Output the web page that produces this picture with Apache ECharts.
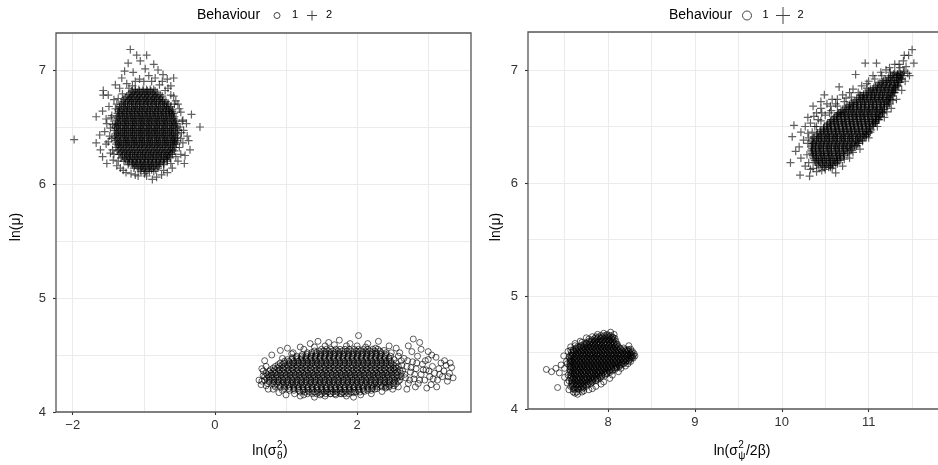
<!DOCTYPE html>
<html>
<head>
<meta charset="utf-8">
<script src="https://cdn.jsdelivr.net/npm/echarts@6/dist/echarts.min.js"></script>
<style>
  html, body { margin: 0; padding: 0; background: #fff; }
  #chart { width: 938px; height: 465px; }
</style>
</head>
<body>
<div id="chart"></div>
<script>
// ---- tick labels -------------------------------------------------------
const thetaTicks = [-2, 0, 2];
const psiTicks = [8, 9, 10, 11];
const muTicks = [4, 5, 6, 7];

// ---- ln(sigma_theta^2) vs ln(mu) ---------------------------------------
// Dense parts are stored as rows: [ln(mu), x1, x2, ...]
const thetaB1Rows = [
  [4.55, 1.50,1.57,1.63,1.70,1.76,1.83,1.89,1.96,2.02,2.09,2.15,2.22,2.29],
  [4.52, 1.30,1.36,1.43,1.49,1.56,1.62,1.69,1.75,1.82,1.88,1.95,2.01,2.08,2.14,2.21,2.27,2.34,2.41],
  [4.49, 1.15,1.22,1.28,1.35,1.41,1.48,1.54,1.61,1.67,1.74,1.80,1.87,1.93,2.00,2.06,2.13,2.19,2.26,2.32,2.39,2.47],
  [4.46, 1.02,1.08,1.15,1.21,1.28,1.34,1.41,1.47,1.54,1.60,1.67,1.73,1.80,1.86,1.93,1.99,2.06,2.12,2.19,2.25,2.32,2.38,2.45,2.52],
  [4.43, 0.92,0.98,1.05,1.11,1.18,1.24,1.31,1.37,1.44,1.50,1.57,1.63,1.70,1.76,1.83,1.89,1.96,2.02,2.09,2.15,2.22,2.28,2.35,2.41,2.48,2.55],
  [4.40, 0.85,0.91,0.98,1.04,1.11,1.17,1.24,1.30,1.37,1.43,1.50,1.56,1.63,1.69,1.76,1.82,1.89,1.95,2.02,2.08,2.15,2.21,2.28,2.34,2.41,2.47,2.54,2.58],
  [4.37, 0.78,0.84,0.91,0.97,1.04,1.10,1.17,1.23,1.30,1.36,1.43,1.49,1.56,1.62,1.69,1.75,1.82,1.88,1.95,2.01,2.08,2.14,2.21,2.27,2.34,2.40,2.47,2.53,2.60],
  [4.34, 0.72,0.79,0.85,0.92,0.98,1.05,1.11,1.18,1.24,1.31,1.37,1.44,1.50,1.57,1.63,1.70,1.76,1.83,1.89,1.96,2.02,2.09,2.15,2.22,2.28,2.35,2.41,2.48,2.54,2.62],
  [4.31, 0.70,0.76,0.83,0.89,0.96,1.02,1.09,1.15,1.22,1.28,1.35,1.41,1.48,1.54,1.61,1.67,1.74,1.80,1.87,1.93,2.00,2.06,2.13,2.19,2.26,2.32,2.39,2.45,2.52,2.58,2.62],
  [4.28, 0.70,0.77,0.83,0.90,0.96,1.03,1.09,1.16,1.22,1.29,1.35,1.42,1.48,1.55,1.61,1.68,1.74,1.81,1.87,1.94,2.00,2.07,2.13,2.20,2.26,2.33,2.39,2.46,2.53,2.60],
  [4.25, 0.74,0.81,0.87,0.94,1.00,1.07,1.13,1.20,1.26,1.33,1.39,1.46,1.52,1.59,1.65,1.72,1.78,1.85,1.91,1.98,2.04,2.11,2.17,2.24,2.30,2.37,2.43,2.50,2.55],
  [4.22, 0.85,0.92,0.98,1.05,1.11,1.18,1.24,1.31,1.37,1.44,1.50,1.57,1.63,1.70,1.76,1.83,1.89,1.96,2.02,2.09,2.15,2.22,2.28,2.35,2.41,2.45],
  [4.19, 1.05,1.11,1.18,1.24,1.31,1.37,1.44,1.50,1.57,1.63,1.70,1.76,1.83,1.89,1.96,2.02,2.09,2.15,2.20],
  [4.16, 1.30,1.37,1.43,1.50,1.56,1.63,1.69,1.76,1.82,1.88],
  // in-between rows of the dense centre
  [4.535, 1.40,1.47,1.53,1.60,1.66,1.73,1.79,1.86,1.92,1.99,2.05,2.12,2.18,2.25,2.32],
  [4.505, 1.23,1.30,1.36,1.43,1.49,1.56,1.62,1.69,1.75,1.82,1.88,1.95,2.01,2.08,2.14,2.21,2.27,2.34,2.40],
  [4.475, 1.09,1.15,1.22,1.28,1.35,1.41,1.48,1.54,1.61,1.67,1.74,1.80,1.87,1.93,2.00,2.06,2.13,2.19,2.26,2.32,2.39,2.45],
  [4.445, 0.98,1.04,1.11,1.17,1.24,1.30,1.37,1.43,1.50,1.56,1.63,1.69,1.76,1.82,1.89,1.95,2.02,2.08,2.15,2.21,2.28,2.34,2.41,2.47],
  [4.415, 0.89,0.95,1.02,1.08,1.15,1.21,1.28,1.34,1.41,1.47,1.54,1.60,1.67,1.73,1.80,1.86,1.93,1.99,2.06,2.12,2.19,2.25,2.32,2.38,2.45,2.51],
  [4.385, 0.82,0.88,0.95,1.01,1.08,1.14,1.21,1.27,1.34,1.40,1.47,1.53,1.60,1.66,1.73,1.79,1.86,1.92,1.99,2.05,2.12,2.18,2.25,2.31,2.38,2.44,2.51,2.55],
  [4.355, 0.76,0.82,0.89,0.95,1.02,1.08,1.15,1.21,1.28,1.34,1.41,1.47,1.54,1.60,1.67,1.73,1.80,1.86,1.93,1.99,2.06,2.12,2.19,2.25,2.32,2.38,2.45,2.51,2.57],
  [4.325, 0.74,0.80,0.87,0.93,1.00,1.06,1.13,1.19,1.26,1.32,1.39,1.45,1.52,1.58,1.65,1.71,1.78,1.84,1.91,1.97,2.04,2.10,2.17,2.23,2.30,2.36,2.43,2.49,2.56],
  [4.295, 0.73,0.80,0.86,0.93,0.99,1.06,1.12,1.19,1.25,1.32,1.38,1.45,1.51,1.58,1.64,1.71,1.77,1.84,1.90,1.97,2.03,2.10,2.16,2.23,2.29,2.36,2.42,2.49,2.56],
  [4.265, 0.76,0.83,0.89,0.96,1.02,1.09,1.15,1.22,1.28,1.35,1.41,1.48,1.54,1.61,1.67,1.74,1.80,1.87,1.93,2.00,2.06,2.13,2.19,2.26,2.32,2.39,2.45,2.52],
  [4.235, 0.84,0.90,0.97,1.03,1.10,1.16,1.23,1.29,1.36,1.42,1.49,1.55,1.62,1.68,1.75,1.81,1.88,1.94,2.01,2.07,2.14,2.20,2.27,2.33,2.40,2.46],
  [4.205, 0.98,1.04,1.11,1.17,1.24,1.30,1.37,1.43,1.50,1.56,1.63,1.69,1.76,1.82,1.89,1.95,2.02,2.08,2.15,2.21,2.28],
  [4.175, 1.20,1.27,1.33,1.40,1.46,1.53,1.59,1.66,1.72,1.79,1.85,1.92,1.98,2.04]
];
const thetaB1Loose = [
  [2.66,4.47],[2.70,4.40],[2.68,4.30],[2.72,4.25],[2.75,4.35],[2.78,4.44],[2.80,4.29],[2.83,4.38],
  [2.85,4.49],[2.86,4.25],[2.90,4.33],[2.92,4.42],[2.95,4.28],[2.97,4.37],[3.00,4.46],[3.02,4.31],
  [3.04,4.24],[3.06,4.40],[3.09,4.34],[3.11,4.48],[3.13,4.28],[3.15,4.38],[3.18,4.43],[3.20,4.31],
  [3.22,4.36],[3.25,4.41],[3.27,4.27],[3.30,4.34],[3.33,4.39],[3.35,4.30],[3.12,4.22],[2.98,4.21],
  [2.82,4.22],[2.70,4.20],[2.64,4.36],[2.77,4.53],[2.90,4.55],[3.05,4.50],[2.60,4.52],[2.72,4.58],
  [3.00,4.53],[0.92,4.54],[1.02,4.56],[1.34,4.60],[1.45,4.62],[1.60,4.61],[1.75,4.63],[2.02,4.67],
  [1.90,4.60],[2.15,4.60],[2.30,4.62],[2.45,4.58],[2.55,4.56],[2.79,4.64],[2.88,4.61],[1.20,4.57],
  [0.80,4.50],[0.70,4.45],[1.10,4.52],[0.62,4.28],[0.65,4.24],[0.68,4.32],[0.75,4.20],[0.90,4.17],
  [1.00,4.15],[1.20,4.14],[1.40,4.13],[1.55,4.14],[1.70,4.15],[1.85,4.14],[2.05,4.15],[2.20,4.16],
  [2.35,4.18],[2.50,4.20],[2.58,4.22],[1.95,4.13],[0.66,4.38],
  [2.63,4.41],[2.67,4.33],[2.71,4.45],[2.74,4.28],[2.76,4.39],[2.81,4.33],[2.84,4.43],[2.88,4.28],
  [2.93,4.37],[2.96,4.45],[3.01,4.36],[3.07,4.29],[3.16,4.33],[3.23,4.45],[3.28,4.31],[3.31,4.43],
  [0.95,4.47],[1.08,4.51],[1.25,4.55],[1.40,4.57],[1.55,4.58],[1.68,4.59],[1.85,4.58],[2.00,4.58],
  [2.12,4.57],[2.26,4.56],[2.38,4.54],[2.48,4.52],[0.72,4.40],[0.68,4.36],[0.66,4.27],[0.72,4.23],
  [0.82,4.20],[0.95,4.19],[1.12,4.16],[1.25,4.15],[1.48,4.15],[1.62,4.16],[1.78,4.16],[1.95,4.17],
  [2.10,4.18],[2.25,4.20],[2.40,4.21],[2.52,4.23],[2.58,4.27],[2.62,4.45],[2.58,4.49]
];
const thetaB2Rows = [
  [6.83, -1.12,-1.07,-1.01,-0.96,-0.91,-0.86],
  [6.80, -1.19,-1.14,-1.09,-1.03,-0.98,-0.93,-0.87,-0.81],
  [6.77, -1.24,-1.18,-1.13,-1.07,-1.02,-0.96,-0.91,-0.85,-0.80,-0.74],
  [6.74, -1.28,-1.22,-1.17,-1.11,-1.06,-1.00,-0.95,-0.89,-0.84,-0.78,-0.73],
  [6.71, -1.31,-1.26,-1.20,-1.15,-1.09,-1.04,-0.98,-0.93,-0.87,-0.82,-0.76,-0.71,-0.66],
  [6.68, -1.34,-1.28,-1.23,-1.17,-1.12,-1.06,-1.01,-0.95,-0.90,-0.84,-0.79,-0.73,-0.68,-0.62],
  [6.65, -1.36,-1.31,-1.25,-1.20,-1.14,-1.09,-1.03,-0.98,-0.92,-0.87,-0.81,-0.76,-0.70,-0.65,-0.60],
  [6.62, -1.37,-1.32,-1.27,-1.21,-1.16,-1.10,-1.05,-0.99,-0.94,-0.88,-0.83,-0.77,-0.72,-0.66,-0.61,-0.58],
  [6.59, -1.38,-1.34,-1.28,-1.23,-1.17,-1.12,-1.06,-1.01,-0.95,-0.90,-0.84,-0.79,-0.73,-0.68,-0.62,-0.57],
  [6.56, -1.39,-1.33,-1.27,-1.22,-1.16,-1.11,-1.05,-1.00,-0.94,-0.89,-0.83,-0.78,-0.72,-0.67,-0.61,-0.55],
  [6.53, -1.40,-1.35,-1.29,-1.24,-1.18,-1.13,-1.07,-1.02,-0.96,-0.91,-0.85,-0.80,-0.74,-0.69,-0.63,-0.58,-0.54],
  [6.50, -1.41,-1.36,-1.30,-1.25,-1.19,-1.14,-1.08,-1.03,-0.97,-0.92,-0.86,-0.81,-0.75,-0.70,-0.64,-0.59,-0.53],
  [6.47, -1.41,-1.35,-1.29,-1.24,-1.18,-1.13,-1.07,-1.02,-0.96,-0.91,-0.85,-0.80,-0.74,-0.69,-0.63,-0.58,-0.52],
  [6.44, -1.40,-1.36,-1.30,-1.25,-1.19,-1.14,-1.08,-1.03,-0.97,-0.92,-0.86,-0.81,-0.75,-0.70,-0.64,-0.59,-0.53],
  [6.41, -1.41,-1.35,-1.29,-1.24,-1.18,-1.13,-1.07,-1.02,-0.96,-0.91,-0.85,-0.80,-0.74,-0.69,-0.63,-0.58,-0.53],
  [6.38, -1.40,-1.34,-1.28,-1.23,-1.17,-1.12,-1.06,-1.01,-0.95,-0.90,-0.84,-0.79,-0.73,-0.68,-0.62,-0.57,-0.53],
  [6.35, -1.39,-1.35,-1.29,-1.24,-1.18,-1.13,-1.07,-1.02,-0.96,-0.91,-0.85,-0.80,-0.74,-0.69,-0.63,-0.58,-0.54],
  [6.32, -1.39,-1.33,-1.28,-1.22,-1.17,-1.11,-1.06,-1.00,-0.95,-0.89,-0.84,-0.78,-0.73,-0.67,-0.62,-0.56],
  [6.29, -1.37,-1.31,-1.26,-1.20,-1.15,-1.09,-1.04,-0.98,-0.93,-0.87,-0.82,-0.76,-0.71,-0.65,-0.60,-0.57],
  [6.26, -1.35,-1.30,-1.24,-1.19,-1.13,-1.08,-1.02,-0.97,-0.91,-0.86,-0.80,-0.75,-0.69,-0.64,-0.60],
  [6.23, -1.32,-1.27,-1.21,-1.16,-1.10,-1.05,-0.99,-0.94,-0.88,-0.83,-0.77,-0.72,-0.67,-0.63],
  [6.20, -1.28,-1.23,-1.17,-1.12,-1.06,-1.01,-0.95,-0.90,-0.84,-0.79,-0.73,-0.67],
  [6.17, -1.22,-1.16,-1.11,-1.05,-1.00,-0.94,-0.89,-0.83,-0.78,-0.72],
  [6.14, -1.14,-1.08,-1.03,-0.97,-0.92,-0.86,-0.80],
  [6.11, -1.04,-0.98,-0.92,-0.86],
  // in-between rows of the dense centre
  [6.815, -1.17,-1.12,-1.06,-1.01,-0.95,-0.90,-0.84],
  [6.785, -1.21,-1.16,-1.10,-1.05,-0.99,-0.94,-0.88,-0.83,-0.77],
  [6.755, -1.26,-1.20,-1.15,-1.09,-1.04,-0.98,-0.93,-0.87,-0.82,-0.76],
  [6.725, -1.29,-1.23,-1.18,-1.12,-1.07,-1.01,-0.96,-0.90,-0.85,-0.79,-0.74,-0.69],
  [6.695, -1.32,-1.26,-1.21,-1.15,-1.10,-1.04,-0.99,-0.93,-0.88,-0.82,-0.77,-0.71,-0.66],
  [6.665, -1.34,-1.28,-1.23,-1.17,-1.12,-1.06,-1.01,-0.95,-0.90,-0.84,-0.79,-0.73,-0.68,-0.63],
  [6.635, -1.35,-1.29,-1.24,-1.18,-1.13,-1.07,-1.02,-0.96,-0.91,-0.85,-0.80,-0.74,-0.69,-0.64,-0.60],
  [6.605, -1.35,-1.30,-1.24,-1.19,-1.13,-1.08,-1.02,-0.97,-0.91,-0.86,-0.80,-0.75,-0.69,-0.64,-0.59],
  [6.575, -1.36,-1.30,-1.25,-1.19,-1.14,-1.08,-1.03,-0.97,-0.92,-0.86,-0.81,-0.75,-0.70,-0.64,-0.58],
  [6.545, -1.37,-1.32,-1.26,-1.21,-1.15,-1.10,-1.04,-0.99,-0.93,-0.88,-0.82,-0.77,-0.71,-0.66,-0.60,-0.56],
  [6.515, -1.38,-1.33,-1.27,-1.22,-1.16,-1.11,-1.05,-1.00,-0.94,-0.89,-0.83,-0.78,-0.72,-0.67,-0.61,-0.56],
  [6.485, -1.38,-1.33,-1.27,-1.22,-1.16,-1.11,-1.05,-1.00,-0.94,-0.89,-0.83,-0.78,-0.72,-0.67,-0.61,-0.55],
  [6.455, -1.38,-1.32,-1.27,-1.21,-1.16,-1.10,-1.05,-0.99,-0.94,-0.88,-0.83,-0.77,-0.72,-0.66,-0.61,-0.55],
  [6.425, -1.38,-1.33,-1.27,-1.22,-1.16,-1.11,-1.05,-1.00,-0.94,-0.89,-0.83,-0.78,-0.72,-0.67,-0.61,-0.56],
  [6.395, -1.38,-1.32,-1.26,-1.21,-1.15,-1.10,-1.04,-0.99,-0.93,-0.88,-0.82,-0.77,-0.71,-0.66,-0.60,-0.56],
  [6.365, -1.37,-1.32,-1.26,-1.21,-1.15,-1.10,-1.04,-0.99,-0.93,-0.88,-0.82,-0.77,-0.71,-0.66,-0.60,-0.56],
  [6.335, -1.36,-1.31,-1.25,-1.20,-1.14,-1.09,-1.03,-0.98,-0.92,-0.87,-0.81,-0.76,-0.70,-0.65,-0.59],
  [6.305, -1.35,-1.29,-1.24,-1.18,-1.13,-1.07,-1.02,-0.96,-0.91,-0.85,-0.80,-0.74,-0.69,-0.63,-0.59],
  [6.275, -1.33,-1.27,-1.22,-1.16,-1.11,-1.05,-1.00,-0.94,-0.89,-0.83,-0.78,-0.72,-0.67,-0.62],
  [6.245, -1.30,-1.24,-1.19,-1.13,-1.08,-1.02,-0.97,-0.91,-0.86,-0.80,-0.75,-0.69,-0.65],
  [6.215, -1.26,-1.20,-1.15,-1.09,-1.04,-0.98,-0.93,-0.87,-0.82,-0.76,-0.71,-0.67],
  [6.185, -1.21,-1.15,-1.10,-1.04,-0.99,-0.93,-0.88,-0.82,-0.77,-0.72],
  [6.155, -1.13,-1.08,-1.02,-0.97,-0.91,-0.86,-0.80],
  [6.125, -1.05,-1.00,-0.94,-0.89,-0.83]
];
const thetaB2Loose = [
  [-1.19,7.18],[-1.10,7.13],[-0.96,7.13],[-1.22,7.06],[-1.05,7.08],[-0.86,7.05],[-0.80,7.00],[-1.27,6.99],
  [-1.15,6.98],[-0.98,7.01],[-0.93,6.95],[-0.73,6.96],[-1.31,6.93],[-1.06,6.92],[-0.89,6.90],[-0.67,6.92],
  [-1.24,6.88],[-1.16,6.86],[-0.78,6.87],[-0.62,6.86],[-1.34,6.84],[-0.70,6.82],[-1.50,6.78],[-1.42,6.74],
  [-0.58,6.77],[-0.52,6.70],[-1.49,6.68],[-1.58,6.64],[-1.45,6.60],[-0.48,6.63],[-0.45,6.56],[-0.33,6.61],
  [-1.67,6.59],[-1.52,6.53],[-0.21,6.50],[-0.44,6.47],[-1.55,6.46],[-1.48,6.42],[-0.39,6.42],[-1.98,6.39],
  [-1.67,6.36],[-1.53,6.35],[-0.45,6.36],[-0.35,6.30],[-1.61,6.30],[-1.47,6.27],[-0.48,6.26],[-1.43,6.21],
  [-0.52,6.20],[-0.43,6.18],[-1.38,6.16],[-0.60,6.14],[-1.29,6.12],[-0.67,6.10],[-1.18,6.09],[-0.96,6.07],
  [-0.82,6.06],[-0.75,6.08],[-1.08,6.07],[-0.88,6.04],[-1.57,6.82],[-1.57,6.78],
  [-1.44,6.52],[-1.45,6.40],[-1.44,6.30],[-0.49,6.50],[-0.48,6.40],[-0.50,6.32],[-1.38,6.70],[-0.57,6.70],
  [-1.46,6.58],[-1.47,6.49],[-1.50,6.37],[-1.42,6.26],[-1.36,6.20],[-1.33,6.14],[-1.25,6.10],[-1.12,6.08],
  [-0.99,6.09],[-0.72,6.12],[-0.62,6.18],[-0.55,6.24],[-0.47,6.45],[-0.46,6.55],[-0.50,6.66],[-0.55,6.73],
  [-0.62,6.78],[-0.66,6.84],[-0.74,6.90],[-0.84,6.93],[-1.00,6.90],[-1.12,6.90],[-1.21,6.84],[-1.30,6.79],
  [-1.36,6.75],[-1.40,6.66],[-1.53,6.57],[-1.40,6.87],[-0.58,6.93],[-0.40,6.53],[-0.37,6.38],[-0.42,6.25],
  [-1.62,6.43],[-1.58,6.24],[-1.52,6.18]
];

// ---- ln(sigma_psi^2 / 2beta) vs ln(mu) ---------------------------------
const psiB1Rows = [
  [4.150, 7.60,7.64],
  [4.175, 7.60,7.62,7.66,7.70],
  [4.200, 7.59,7.63,7.67,7.71,7.75],
  [4.225, 7.58,7.61,7.65,7.69,7.73,7.77,7.80],
  [4.250, 7.58,7.62,7.66,7.70,7.74,7.78,7.82,7.86],
  [4.275, 7.57,7.60,7.64,7.68,7.72,7.76,7.80,7.84,7.88,7.91],
  [4.300, 7.57,7.61,7.65,7.69,7.73,7.77,7.81,7.85,7.89,7.93,7.97],
  [4.325, 7.56,7.59,7.63,7.67,7.71,7.75,7.79,7.83,7.87,7.91,7.95,7.99,8.02],
  [4.350, 7.56,7.60,7.64,7.68,7.72,7.76,7.80,7.84,7.88,7.92,7.96,8.00,8.04,8.08],
  [4.375, 7.56,7.58,7.62,7.66,7.70,7.74,7.78,7.82,7.86,7.90,7.94,7.98,8.02,8.06,8.10,8.13],
  [4.400, 7.56,7.60,7.64,7.68,7.72,7.76,7.80,7.84,7.88,7.92,7.96,8.00,8.04,8.08,8.12,8.16,8.18],
  [4.425, 7.56,7.58,7.62,7.66,7.70,7.74,7.78,7.82,7.86,7.90,7.94,7.98,8.02,8.06,8.10,8.14,8.18,8.21,8.24],
  [4.450, 7.56,7.60,7.64,7.68,7.72,7.76,7.80,7.84,7.88,7.92,7.96,8.00,8.04,8.08,8.12,8.16,8.20,8.24,8.27,8.29],
  [4.475, 7.57,7.59,7.63,7.67,7.71,7.75,7.79,7.83,7.87,7.91,7.95,7.99,8.03,8.07,8.11,8.15,8.19,8.23,8.27,8.29],
  [4.500, 7.58,7.61,7.65,7.69,7.73,7.77,7.81,7.85,7.89,7.93,7.97,8.01,8.05,8.09,8.13,8.17,8.21,8.25,8.27],
  [4.525, 7.60,7.63,7.67,7.71,7.75,7.79,7.83,7.87,7.91,7.95,7.99,8.03,8.07,8.11,8.15,8.19,8.22,8.24],
  [4.550, 7.65,7.68,7.72,7.76,7.80,7.84,7.88,7.92,7.96,8.00,8.04,8.08,8.12],
  [4.575, 7.72,7.75,7.79,7.83,7.87,7.91,7.95,7.99,8.03,8.07,8.10],
  [4.600, 7.78,7.81,7.85,7.89,7.93,7.97,8.01,8.05,8.09],
  [4.625, 7.85,7.88,7.92,7.96,8.00,8.04,8.08],
  [4.650, 7.92,7.96,8.00,8.03],
  // in-between rows of the dense centre
  [4.188, 7.61,7.65,7.69,7.72],
  [4.213, 7.60,7.64,7.68,7.72,7.76],
  [4.238, 7.59,7.63,7.67,7.71,7.75,7.79,7.82],
  [4.263, 7.59,7.62,7.66,7.70,7.74,7.78,7.82,7.86,7.88],
  [4.288, 7.58,7.62,7.66,7.70,7.74,7.78,7.82,7.86,7.90,7.93],
  [4.313, 7.58,7.61,7.65,7.69,7.73,7.77,7.81,7.85,7.89,7.93,7.97,7.99],
  [4.338, 7.57,7.61,7.65,7.69,7.73,7.77,7.81,7.85,7.89,7.93,7.97,8.01,8.05],
  [4.363, 7.57,7.60,7.64,7.68,7.72,7.76,7.80,7.84,7.88,7.92,7.96,8.00,8.04,8.08,8.10],
  [4.388, 7.57,7.61,7.65,7.69,7.73,7.77,7.81,7.85,7.89,7.93,7.97,8.01,8.05,8.09,8.13,8.15],
  [4.413, 7.57,7.60,7.64,7.68,7.72,7.76,7.80,7.84,7.88,7.92,7.96,8.00,8.04,8.08,8.12,8.16,8.20],
  [4.438, 7.57,7.61,7.65,7.69,7.73,7.77,7.81,7.85,7.89,7.93,7.97,8.01,8.05,8.09,8.13,8.17,8.21,8.25],
  [4.463, 7.58,7.62,7.66,7.70,7.74,7.78,7.82,7.86,7.90,7.94,7.98,8.02,8.06,8.10,8.14,8.18,8.22,8.26,8.28],
  [4.488, 7.59,7.63,7.67,7.71,7.75,7.79,7.83,7.87,7.91,7.95,7.99,8.03,8.07,8.11,8.15,8.19,8.23,8.26],
  [4.513, 7.60,7.64,7.68,7.72,7.76,7.80,7.84,7.88,7.92,7.96,8.00,8.04,8.08,8.12,8.16,8.20,8.23],
  [4.538, 7.63,7.66,7.70,7.74,7.78,7.82,7.86,7.90,7.94,7.98,8.02,8.06,8.10,8.14],
  [4.563, 7.69,7.73,7.77,7.81,7.85,7.89,7.93,7.97,8.01,8.05,8.09],
  [4.588, 7.75,7.79,7.83,7.87,7.91,7.95,7.99,8.03,8.07],
  [4.613, 7.82,7.86,7.90,7.94,7.98,8.02,8.06],
  [4.638, 7.89,7.93,7.97,8.01,8.05]
];
const psiB1Loose = [
  [7.29,4.35],[7.35,4.33],[7.40,4.36],[7.44,4.32],[7.42,4.19],[7.46,4.39],[7.50,4.28],[7.52,4.42],
  [7.49,4.47],[7.53,4.23],[7.54,4.51],[7.57,4.55],[7.62,4.58],[7.68,4.60],[7.75,4.63],[7.82,4.64],
  [7.88,4.66],[7.95,4.67],[8.03,4.68],[8.07,4.66],[8.24,4.56],[8.28,4.51],[8.31,4.47],[7.65,4.13],
  [7.70,4.15],[7.78,4.17],[7.86,4.20],[7.95,4.24],[8.05,4.30],[8.15,4.36],[8.23,4.40],[7.55,4.17],
  [7.50,4.36],
  [7.54,4.30],[7.53,4.40],[7.55,4.46],[7.57,4.52],[7.62,4.56],[7.70,4.59],[7.78,4.62],[7.86,4.64],
  [7.99,4.66],[8.06,4.63],[8.11,4.57],[8.18,4.54],[8.26,4.53],[8.30,4.49],[8.26,4.42],[8.20,4.38],
  [8.12,4.33],[8.02,4.27],[7.92,4.22],[7.82,4.18],[7.72,4.16],[7.62,4.14],[7.57,4.20],[7.55,4.25]
];
const psiB2Rows = [
  [6.14, 10.44,10.49,10.54,10.56],
  [6.17, 10.40,10.45,10.49,10.54,10.58,10.62],
  [6.20, 10.38,10.42,10.47,10.51,10.56,10.60,10.64,10.66],
  [6.23, 10.36,10.40,10.45,10.49,10.54,10.58,10.63,10.67,10.71],
  [6.26, 10.35,10.39,10.44,10.48,10.53,10.57,10.62,10.66,10.71,10.76],
  [6.29, 10.34,10.37,10.42,10.46,10.51,10.55,10.60,10.64,10.69,10.73,10.78,10.81],
  [6.32, 10.34,10.39,10.43,10.48,10.52,10.57,10.61,10.66,10.70,10.75,10.79,10.84],
  [6.35, 10.35,10.37,10.42,10.46,10.51,10.55,10.60,10.64,10.69,10.73,10.78,10.82,10.87,10.89],
  [6.38, 10.35,10.40,10.44,10.49,10.53,10.58,10.62,10.67,10.71,10.76,10.80,10.85,10.89,10.93],
  [6.41, 10.37,10.42,10.46,10.51,10.55,10.60,10.64,10.69,10.73,10.78,10.82,10.87,10.91,10.95,10.97],
  [6.44, 10.41,10.45,10.50,10.54,10.59,10.63,10.68,10.72,10.77,10.81,10.86,10.90,10.95,11.00],
  [6.47, 10.45,10.48,10.53,10.57,10.62,10.66,10.71,10.75,10.80,10.84,10.89,10.93,10.98,11.03],
  [6.50, 10.49,10.52,10.56,10.61,10.65,10.70,10.74,10.79,10.83,10.88,10.92,10.97,11.01,11.05],
  [6.53, 10.53,10.55,10.60,10.64,10.69,10.73,10.78,10.82,10.87,10.91,10.96,11.00,11.05,11.08],
  [6.56, 10.57,10.59,10.63,10.68,10.72,10.77,10.81,10.86,10.90,10.95,10.99,11.04,11.08,11.11],
  [6.59, 10.61,10.63,10.67,10.72,10.76,10.81,10.85,10.90,10.94,10.99,11.03,11.08,11.12,11.14],
  [6.62, 10.65,10.66,10.71,10.75,10.80,10.84,10.89,10.93,10.98,11.02,11.07,11.11,11.16],
  [6.65, 10.70,10.74,10.79,10.83,10.88,10.92,10.97,11.01,11.06,11.10,11.15,11.18],
  [6.68, 10.75,10.78,10.82,10.87,10.91,10.96,11.00,11.05,11.09,11.14,11.18,11.21],
  [6.71, 10.80,10.82,10.86,10.91,10.95,11.00,11.04,11.09,11.13,11.18,11.23],
  [6.74, 10.86,10.90,10.95,10.99,11.04,11.08,11.13,11.17,11.22,11.25],
  [6.77, 10.91,10.94,10.98,11.03,11.07,11.12,11.16,11.21,11.25,11.27],
  [6.80, 10.96,11.00,11.05,11.09,11.14,11.18,11.23,11.27,11.29],
  [6.83, 11.02,11.05,11.10,11.14,11.19,11.23,11.28,11.31],
  [6.86, 11.08,11.12,11.17,11.21,11.26,11.30,11.33],
  [6.89, 11.13,11.16,11.21,11.25,11.30,11.34,11.36],
  [6.92, 11.19,11.23,11.28,11.32,11.36,11.38],
  [6.95, 11.25,11.28,11.33,11.37,11.39],
  [6.98, 11.30,11.35,11.40],
  // in-between rows of the dense centre
  [6.155, 10.42,10.47,10.51,10.56,10.59],
  [6.185, 10.39,10.43,10.47,10.52,10.56,10.61,10.64],
  [6.215, 10.37,10.42,10.46,10.51,10.55,10.60,10.64,10.68],
  [6.245, 10.36,10.40,10.45,10.49,10.54,10.58,10.63,10.67,10.72],
  [6.275, 10.35,10.39,10.44,10.48,10.53,10.57,10.62,10.66,10.71,10.76],
  [6.305, 10.35,10.39,10.44,10.48,10.53,10.57,10.62,10.66,10.71,10.75,10.80],
  [6.335, 10.35,10.39,10.44,10.48,10.53,10.57,10.62,10.66,10.71,10.75,10.80,10.84],
  [6.365, 10.36,10.40,10.45,10.49,10.54,10.58,10.63,10.67,10.72,10.76,10.81,10.85,10.88],
  [6.395, 10.37,10.42,10.46,10.51,10.55,10.60,10.64,10.69,10.73,10.78,10.82,10.87,10.91],
  [6.425, 10.40,10.44,10.49,10.53,10.58,10.62,10.67,10.71,10.76,10.80,10.85,10.89,10.94,10.97],
  [6.455, 10.44,10.48,10.53,10.57,10.62,10.66,10.71,10.75,10.80,10.84,10.89,10.93,10.98,11.00],
  [6.485, 10.48,10.52,10.57,10.61,10.66,10.70,10.75,10.79,10.84,10.88,10.93,10.97,11.02],
  [6.515, 10.52,10.56,10.61,10.65,10.70,10.74,10.79,10.83,10.88,10.92,10.97,11.01,11.05],
  [6.545, 10.56,10.60,10.65,10.69,10.74,10.78,10.83,10.87,10.92,10.96,11.01,11.05,11.08],
  [6.575, 10.60,10.64,10.69,10.73,10.78,10.82,10.87,10.91,10.96,11.00,11.05,11.09,11.11],
  [6.605, 10.64,10.68,10.73,10.77,10.82,10.86,10.91,10.95,11.00,11.04,11.09,11.13],
  [6.635, 10.68,10.72,10.77,10.81,10.86,10.90,10.95,10.99,11.04,11.08,11.13,11.16],
  [6.665, 10.73,10.77,10.82,10.86,10.91,10.95,11.00,11.04,11.09,11.13,11.18],
  [6.695, 10.78,10.82,10.87,10.91,10.96,11.00,11.05,11.09,11.14,11.18,11.21],
  [6.725, 10.84,10.88,10.93,10.97,11.02,11.06,11.11,11.15,11.20,11.23],
  [6.755, 10.89,10.93,10.98,11.02,11.07,11.11,11.16,11.20,11.24],
  [6.785, 10.94,10.98,11.03,11.07,11.12,11.16,11.21,11.26],
  [6.815, 11.00,11.04,11.09,11.13,11.18,11.22,11.27,11.29],
  [6.845, 11.06,11.10,11.15,11.19,11.24,11.28,11.31],
  [6.875, 11.11,11.15,11.20,11.24,11.29,11.33],
  [6.905, 11.17,11.21,11.26,11.30,11.34],
  [6.935, 11.23,11.27,11.32,11.36],
  [6.965, 11.29,11.33,11.37]
];
const psiB2Loose = [
  [11.50,7.18],[11.41,7.13],[11.46,7.13],[11.52,7.06],[11.45,6.97],[10.96,7.06],[11.09,7.06],[10.85,6.96],
  [10.66,6.85],[10.49,6.78],[10.36,6.68],[10.14,6.51],[10.12,6.41],[10.10,6.18],[10.21,6.07],[10.32,6.06],
  [10.62,6.09],[11.40,7.08],[11.36,7.02],[11.30,7.05],[11.43,7.03],[11.20,7.00],[11.15,6.95],[11.00,6.90],
  [10.92,6.86],[10.78,6.80],[10.70,6.78],[10.58,6.74],[10.52,6.70],[10.45,6.66],[10.40,6.62],[10.30,6.58],
  [10.27,6.50],[10.22,6.45],[10.25,6.38],[10.20,6.32],[10.16,6.28],[10.22,6.22],[10.27,6.15],[10.33,6.12],
  [10.40,6.10],[10.50,6.12],[10.70,6.15],[10.78,6.22],[10.90,6.30],[11.00,6.40],[11.10,6.50],[11.18,6.58],
  [11.26,6.66],[11.32,6.74],[11.38,6.82],[11.42,6.90],[11.47,6.95],[10.42,6.56],[10.38,6.50],[10.30,6.44],
  [10.55,6.62],[10.62,6.70],[10.45,6.72],[10.68,6.62],[10.90,6.78],
  [10.33,6.53],[10.37,6.59],[10.46,6.62],[10.56,6.68],[10.64,6.74],[10.74,6.75],[10.82,6.83],[10.98,6.88],
  [11.05,6.95],[11.25,6.98],[11.34,6.96],
  [10.30,6.35],[10.29,6.25],[10.31,6.18],[10.36,6.13],[10.46,6.11],[10.58,6.13],[10.64,6.17],[10.72,6.21],
  [10.82,6.27],[10.86,6.33],[10.93,6.37],[10.97,6.43],[11.02,6.45],[11.07,6.53],[11.12,6.56],[11.16,6.62],
  [11.21,6.63],[11.24,6.70],[11.28,6.73],[11.30,6.80],[11.34,6.86],[11.38,6.92],[11.41,6.99],[11.35,7.05],
  [11.24,7.02],[11.14,6.98],[11.07,6.92],[10.98,6.84],[10.88,6.80],[10.80,6.76],[10.72,6.72],[10.64,6.68],
  [10.57,6.64],[10.50,6.60],[10.45,6.55],[10.40,6.50],[10.35,6.45],[10.31,6.40]
];

// ---- drawing -----------------------------------------------------------
const FONT = '"Liberation Sans", Arial, Helvetica, sans-serif';
const INK = 'rgba(0,0,0,0.78)';
const PLUS = 'path://M0,3.4H8V4.6H0Z M3.4,0H4.6V8H3.4Z';

function fromRows(rows) {
  const pts = [];
  rows.forEach(r => { for (let i = 1; i < r.length; i++) pts.push([r[i], r[0]]); });
  return pts;
}

const grids = [
  { left: 56, top: 33, width: 415, height: 379 },
  { left: 528, top: 32, width: 420, height: 377 }
];
const panels = [
  { x: [-2.235, 3.602], y: [4, 7.3246], xStep: 1, yStep: 0.5, xTicks: thetaTicks, yTicks: muTicks },
  { x: [7.079, 11.798], y: [4, 7.336], xStep: 0.5, yStep: 0.5, xTicks: psiTicks, yTicks: muTicks }
];

const fmt = v => (v < 0 ? '\u2212' + Math.abs(v) : String(v));
const labelStyle = { color: '#333', fontSize: 13, fontFamily: FONT };
const gridLine = { show: true, showMinLine: false, showMaxLine: false, lineStyle: { color: '#ebebeb', width: 1.1 } };
const noLine = { show: false, onZero: false };

const xAxes = [], yAxes = [];
panels.forEach((p, i) => {
  xAxes.push({
    type: 'value', gridIndex: i, min: p.x[0], max: p.x[1], position: 'bottom',
    axisLine: noLine, splitLine: { show: false },
    axisTick: { show: true, customValues: p.xTicks, length: 3, lineStyle: { color: '#333', width: 1.1 } },
    axisLabel: Object.assign({ customValues: p.xTicks, margin: 7, formatter: fmt }, labelStyle)
  });
  xAxes.push({
    type: 'value', gridIndex: i, min: p.x[0], max: p.x[1], position: 'top',
    minInterval: p.xStep, maxInterval: p.xStep,
    axisLine: noLine, axisTick: { show: false }, axisLabel: { show: false },
    splitLine: gridLine
  });
  yAxes.push({
    type: 'value', gridIndex: i, min: p.y[0], max: p.y[1], position: 'left',
    axisLine: noLine, splitLine: { show: false },
    axisTick: { show: true, customValues: p.yTicks, length: 3, lineStyle: { color: '#333', width: 1.1 } },
    axisLabel: Object.assign({ customValues: p.yTicks, margin: 10, formatter: fmt }, labelStyle)
  });
  yAxes.push({
    type: 'value', gridIndex: i, min: p.y[0], max: p.y[1], position: 'right',
    minInterval: p.yStep, maxInterval: p.yStep,
    axisLine: noLine, axisTick: { show: false }, axisLabel: { show: false },
    splitLine: gridLine
  });
});

const common = { type: 'scatter', silent: true, animation: false, progressive: 0, large: false, emphasis: { disabled: true } };
const circleStyle = { color: 'rgba(0,0,0,0)', borderColor: INK, borderWidth: 1 };
const plusStyle = { color: INK };

const series = [
  Object.assign({ name: '1', xAxisIndex: 0, yAxisIndex: 0, data: fromRows(thetaB1Rows).concat(thetaB1Loose),
    symbol: 'circle', symbolSize: 6, itemStyle: circleStyle }, common),
  Object.assign({ name: '2', xAxisIndex: 0, yAxisIndex: 0, data: fromRows(thetaB2Rows).concat(thetaB2Loose),
    symbol: PLUS, symbolSize: 8, itemStyle: plusStyle }, common),
  Object.assign({ name: '1', xAxisIndex: 2, yAxisIndex: 2, data: fromRows(psiB1Rows).concat(psiB1Loose),
    symbol: 'circle', symbolSize: 6, itemStyle: circleStyle }, common),
  Object.assign({ name: '2', xAxisIndex: 2, yAxisIndex: 2, data: fromRows(psiB2Rows).concat(psiB2Loose),
    symbol: PLUS, symbolSize: 8, itemStyle: plusStyle }, common)
];

// ---- text helpers --------------------------------------------------------
const measureCtx = document.createElement('canvas').getContext('2d');
function textWidth(t, size) { measureCtx.font = size + 'px ' + FONT; return measureCtx.measureText(t).width; }
function txt(x, y, text, size, align, extra) {
  return Object.assign({
    type: 'text', x: x, y: y, z: 100,
    style: { text: text, font: size + 'px ' + FONT, fill: '#000', align: align || 'left', verticalAlign: 'middle',
             textAlign: align || 'left', textVerticalAlign: 'middle' }
  }, extra || {});
}
// axis title with a stacked superscript / subscript
function mathLabel(cx, cy, parts) {
  const BIG = 14, SMALL = 10;
  const widths = parts.map(p => typeof p === 'string' ? textWidth(p, BIG)
    : Math.max(textWidth(p.sup, SMALL), textWidth(p.sub, SMALL)) + 1);
  let x = cx - widths.reduce((a, b) => a + b, 0) / 2;
  const out = [];
  parts.forEach((p, i) => {
    if (typeof p === 'string') out.push(txt(x, cy, p, BIG));
    else { out.push(txt(x + 0.5, cy - 6, p.sup, SMALL)); out.push(txt(x + 0.5, cy + 5, p.sub, SMALL)); }
    x += widths[i];
  });
  return out;
}
function legendKeys(x0, circleX, r, plusX, plusW, plusH, oneX, twoX) {
  return [
    txt(x0, 15, 'Behaviour', 14),
    { type: 'circle', z: 100, shape: { cx: circleX, cy: 15.5, r: r }, style: { fill: 'none', stroke: '#444', lineWidth: 1 } },
    txt(oneX, 15, '1', 11, 'center'),
    { type: 'line', z: 100, shape: { x1: plusX - plusW / 2, y1: 15.5, x2: plusX + plusW / 2, y2: 15.5 }, style: { stroke: '#444', lineWidth: 1 } },
    { type: 'line', z: 100, shape: { x1: plusX, y1: 15.5 - plusH / 2, x2: plusX, y2: 15.5 + plusH / 2 }, style: { stroke: '#444', lineWidth: 1 } },
    txt(twoX, 15, '2', 11, 'center')
  ];
}

const g0 = grids[0], g1 = grids[1];
const frame = { stroke: '#555', lineWidth: 1.3, fill: 'none' };
const graphics = [
  { type: 'rect', z: 90, shape: { x: g0.left, y: g0.top, width: g0.width, height: g0.height }, style: frame },
  { type: 'polyline', z: 90, shape: { points: [[g1.left + g1.width, g1.top], [g1.left, g1.top], [g1.left, g1.top + g1.height], [g1.left + g1.width, g1.top + g1.height]] }, style: frame },
  txt(16, 227, 'ln(\u03bc)', 14, 'center', { rotation: Math.PI / 2 }),
  txt(496, 227, 'ln(\u03bc)', 14, 'center', { rotation: Math.PI / 2 })
]
  .concat(mathLabel(270, 451, ['ln(\u03c3', { sup: '2', sub: '\u03b8' }, ')']))
  .concat(mathLabel(742, 451, ['ln(\u03c3', { sup: '2', sub: '\u03c8' }, '/2\u03b2)']))
  .concat(legendKeys(197, 277, 3, 312, 10, 10, 295, 329))
  .concat(legendKeys(669, 747, 4.5, 783, 14, 17, 765.5, 800.5));

const chart = echarts.init(document.getElementById('chart'), null, { renderer: 'canvas' });
chart.setOption({
  animation: false,
  backgroundColor: '#fff',
  grid: grids.map(g => Object.assign({ containLabel: false }, g)),
  xAxis: xAxes,
  yAxis: yAxes,
  series: series,
  graphic: graphics
});
</script>
</body>
</html>
